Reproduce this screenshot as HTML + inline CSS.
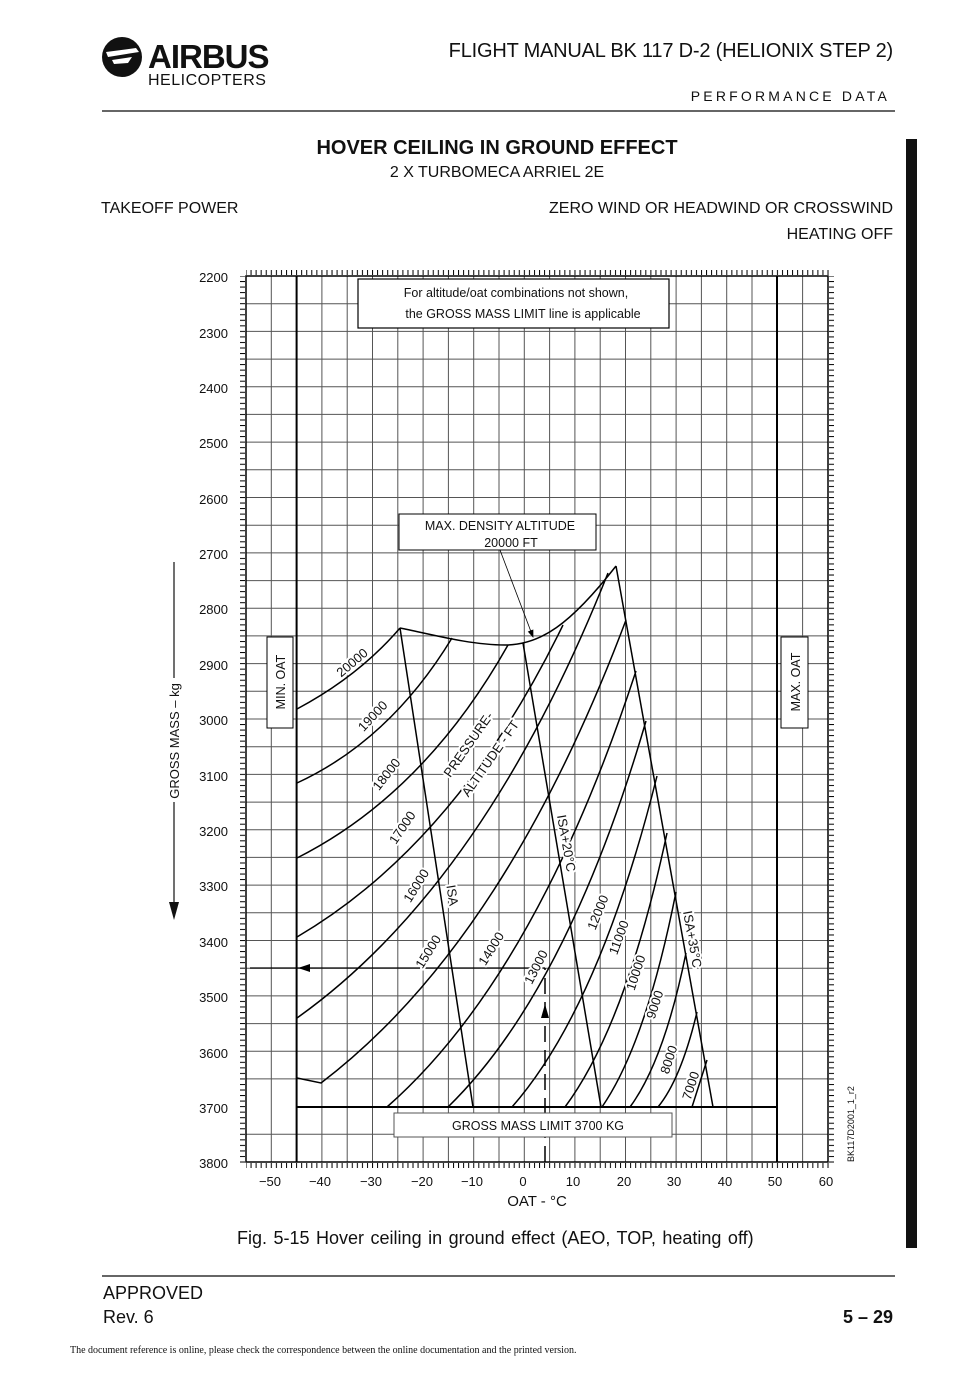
<!DOCTYPE html>
<html><head><meta charset="utf-8"><style>
html,body{margin:0;padding:0;background:#fff;}
body{width:960px;height:1368px;position:relative;overflow:hidden;font-family:"Liberation Sans",sans-serif;}
</style></head><body>
<svg width="960" height="1368" viewBox="0 0 960 1368" xmlns="http://www.w3.org/2000/svg" font-family="Liberation Sans, sans-serif">
<defs>
<pattern id="tx" x="245.5" y="0" width="5.0609" height="20" patternUnits="userSpaceOnUse"><rect x="0" y="0" width="1" height="20" fill="#000"/></pattern>
<pattern id="ty" x="0" y="275.5" width="20" height="5.5375" patternUnits="userSpaceOnUse"><rect x="0" y="0" width="20" height="1" fill="#000"/></pattern>
<marker id="ah" markerWidth="8" markerHeight="8" refX="7" refY="4" orient="auto" markerUnits="userSpaceOnUse"><path d="M0,1 L8,4 L0,7 Z" fill="#000"/></marker>
</defs>

<!-- header -->
<circle cx="122" cy="57" r="20" fill="#111"/>
<path d="M106,52 L136,48 L139,52 L108,57 Z M112,60 L132,57 L128,63 L114,64 Z" fill="#fff"/>
<text x="148" y="68" font-size="33" font-weight="bold" fill="#111" letter-spacing="-1">AIRBUS</text>
<text x="148" y="85" font-size="16" fill="#111" letter-spacing="0.5">HELICOPTERS</text>
<text x="893" y="57" font-size="20" text-anchor="end" fill="#111" letter-spacing="-0.2">FLIGHT MANUAL  BK 117 D-2 (HELIONIX STEP 2)</text>
<text x="890" y="101" font-size="14" text-anchor="end" letter-spacing="3.2" fill="#111">PERFORMANCE DATA</text>
<line x1="102" y1="111" x2="895" y2="111" stroke="#333" stroke-width="1.5"/>
<rect x="906" y="139" width="11" height="1109" fill="#111"/>

<text x="497" y="154" font-size="20" font-weight="bold" text-anchor="middle" fill="#111">HOVER CEILING IN GROUND EFFECT</text>
<text x="497" y="177" font-size="16" text-anchor="middle" fill="#111">2 X TURBOMECA ARRIEL 2E</text>
<text x="101" y="213" font-size="16" fill="#111">TAKEOFF POWER</text>
<text x="893" y="213" font-size="16" text-anchor="end" fill="#111">ZERO WIND OR HEADWIND OR CROSSWIND</text>
<text x="893" y="239" font-size="16" text-anchor="end" fill="#111">HEATING OFF</text>

<!-- grid -->
<g stroke="#555" stroke-width="1">
<line x1="271.3" y1="276" x2="271.3" y2="1162"/><line x1="321.9" y1="276" x2="321.9" y2="1162"/><line x1="347.2" y1="276" x2="347.2" y2="1162"/><line x1="372.5" y1="276" x2="372.5" y2="1162"/><line x1="397.8" y1="276" x2="397.8" y2="1162"/><line x1="423.1" y1="276" x2="423.1" y2="1162"/><line x1="448.4" y1="276" x2="448.4" y2="1162"/><line x1="473.7" y1="276" x2="473.7" y2="1162"/><line x1="499.0" y1="276" x2="499.0" y2="1162"/><line x1="524.3" y1="276" x2="524.3" y2="1162"/><line x1="549.6" y1="276" x2="549.6" y2="1162"/><line x1="574.9" y1="276" x2="574.9" y2="1162"/><line x1="600.2" y1="276" x2="600.2" y2="1162"/><line x1="625.5" y1="276" x2="625.5" y2="1162"/><line x1="650.8" y1="276" x2="650.8" y2="1162"/><line x1="676.1" y1="276" x2="676.1" y2="1162"/><line x1="701.4" y1="276" x2="701.4" y2="1162"/><line x1="726.7" y1="276" x2="726.7" y2="1162"/><line x1="752.0" y1="276" x2="752.0" y2="1162"/><line x1="802.6" y1="276" x2="802.6" y2="1162"/>
<line x1="246" y1="303.7" x2="828" y2="303.7"/><line x1="246" y1="331.4" x2="828" y2="331.4"/><line x1="246" y1="359.1" x2="828" y2="359.1"/><line x1="246" y1="386.8" x2="828" y2="386.8"/><line x1="246" y1="414.4" x2="828" y2="414.4"/><line x1="246" y1="442.1" x2="828" y2="442.1"/><line x1="246" y1="469.8" x2="828" y2="469.8"/><line x1="246" y1="497.5" x2="828" y2="497.5"/><line x1="246" y1="525.2" x2="828" y2="525.2"/><line x1="246" y1="552.9" x2="828" y2="552.9"/><line x1="246" y1="580.6" x2="828" y2="580.6"/><line x1="246" y1="608.3" x2="828" y2="608.3"/><line x1="246" y1="635.9" x2="828" y2="635.9"/><line x1="246" y1="663.6" x2="828" y2="663.6"/><line x1="246" y1="691.3" x2="828" y2="691.3"/><line x1="246" y1="719.0" x2="828" y2="719.0"/><line x1="246" y1="746.7" x2="828" y2="746.7"/><line x1="246" y1="774.4" x2="828" y2="774.4"/><line x1="246" y1="802.1" x2="828" y2="802.1"/><line x1="246" y1="829.8" x2="828" y2="829.8"/><line x1="246" y1="857.4" x2="828" y2="857.4"/><line x1="246" y1="885.1" x2="828" y2="885.1"/><line x1="246" y1="912.8" x2="828" y2="912.8"/><line x1="246" y1="940.5" x2="828" y2="940.5"/><line x1="246" y1="968.2" x2="828" y2="968.2"/><line x1="246" y1="995.9" x2="828" y2="995.9"/><line x1="246" y1="1023.6" x2="828" y2="1023.6"/><line x1="246" y1="1051.3" x2="828" y2="1051.3"/><line x1="246" y1="1078.9" x2="828" y2="1078.9"/><line x1="246" y1="1134.3" x2="828" y2="1134.3"/>
</g>
<!-- ticks -->
<rect x="246" y="270" width="583" height="5" fill="url(#tx)"/>
<rect x="246" y="1163" width="583" height="5" fill="url(#tx)"/>
<rect x="240" y="276" width="5" height="887" fill="url(#ty)"/>
<rect x="829" y="276" width="5" height="887" fill="url(#ty)"/>
<rect x="246" y="276" width="582" height="886" fill="none" stroke="#000" stroke-width="1.5"/>
<line x1="296.6" y1="276" x2="296.6" y2="1162" stroke="#000" stroke-width="2"/>
<line x1="777" y1="276" x2="777" y2="1162" stroke="#000" stroke-width="2"/>
<line x1="296.6" y1="1107" x2="777" y2="1107" stroke="#000" stroke-width="2"/>

<!-- y labels -->
<g font-size="13" text-anchor="end" fill="#111">
<text x="228" y="282">2200</text><text x="228" y="338">2300</text><text x="228" y="393">2400</text><text x="228" y="448">2500</text><text x="228" y="504">2600</text><text x="228" y="559">2700</text><text x="228" y="614">2800</text><text x="228" y="670">2900</text><text x="228" y="725">3000</text><text x="228" y="781">3100</text><text x="228" y="836">3200</text><text x="228" y="891">3300</text><text x="228" y="947">3400</text><text x="228" y="1002">3500</text><text x="228" y="1058">3600</text><text x="228" y="1113">3700</text><text x="228" y="1168">3800</text>
</g>
<g font-size="13" text-anchor="middle" fill="#111">
<text x="270" y="1186">−50</text><text x="320" y="1186">−40</text><text x="371" y="1186">−30</text><text x="422" y="1186">−20</text><text x="472" y="1186">−10</text><text x="523" y="1186">0</text><text x="573" y="1186">10</text><text x="624" y="1186">20</text><text x="674" y="1186">30</text><text x="725" y="1186">40</text><text x="775" y="1186">50</text><text x="826" y="1186">60</text>
</g>
<text x="537" y="1206" font-size="15" text-anchor="middle" fill="#111">OAT - °C</text>
<text transform="translate(179,741) rotate(-90)" font-size="13" text-anchor="middle" fill="#111">GROSS MASS – kg</text>
<line x1="174" y1="562" x2="174" y2="678" stroke="#111" stroke-width="1.2"/>
<line x1="174" y1="802" x2="174" y2="905" stroke="#111" stroke-width="1.2"/>
<path d="M169,902 L179,902 L174,920 Z" fill="#111"/>
<text transform="translate(854,1162) rotate(-90)" font-size="9" fill="#111">BK117D2001_1_r2</text>

<!-- curves -->
<g fill="none" stroke="#000" stroke-width="1.5">
<path d="M400,628 C430,634 470,645 505,645 C540,645 570,625 616,566"/>
<path d="M400,628 L473,1107"/>
<path d="M523,643 L601,1107"/>
<path d="M616,566 L713,1107"/>
<path d="M297,709 Q359,676 400,628"/>
<path d="M297,783 Q390,740 452,638"/>
<path d="M297,858 Q424,794 508,645"/>
<path d="M297,937 Q457,843 563,625"/>
<path d="M297,1018 Q484,885 608,573"/>
<path d="M297,1078 L321,1083 Q504,944 626,620"/>
<path d="M387,1107 Q536,976 636,671"/>
<path d="M448,1107 Q567,991 646,721"/>
<path d="M512,1107 Q599,1008 657,776"/>
<path d="M565,1107 Q626,1025 667,833"/>
<path d="M602,1107 Q646,1043 676,892"/>
<path d="M630,1107 Q664,1061 686,953"/>
<path d="M658,1107 Q681,1079 697,1012"/>
<path d="M692,1107 L707,1060"/>
</g>
<line x1="500" y1="550" x2="533" y2="637" stroke="#000" stroke-width="0.8" marker-end="url(#ah)"/>
<line x1="545" y1="968" x2="250" y2="968" stroke="#000" stroke-width="1.2"/>
<path d="M298,968 L310,964 L310,972 Z" fill="#000"/>
<line x1="545" y1="1162" x2="545" y2="968" stroke="#000" stroke-width="1.5" stroke-dasharray="16,8"/>
<path d="M545,1004 L541,1018 L549,1018 Z" fill="#000"/>

<!-- curve labels -->
<g font-size="13" fill="#111" text-anchor="middle" stroke="#fff" stroke-width="4" paint-order="stroke" stroke-linejoin="round">
<text transform="translate(355,666) rotate(-40)">20000</text>
<text transform="translate(376,719) rotate(-47)">19000</text>
<text transform="translate(390,777) rotate(-52)">18000</text>
<text transform="translate(406,830) rotate(-56)">17000</text>
<text transform="translate(420,888) rotate(-58)">16000</text>
<text transform="translate(432,954) rotate(-58)">15000</text>
<text transform="translate(495,951) rotate(-58)">14000</text>
<text transform="translate(540,969) rotate(-63)">13000</text>
<text transform="translate(602,914) rotate(-68)">12000</text>
<text transform="translate(623,939) rotate(-70)">11000</text>
<text transform="translate(640,974) rotate(-72)">10000</text>
<text transform="translate(659,1006) rotate(-72)">9000</text>
<text transform="translate(673,1061) rotate(-72)">8000</text>
<text transform="translate(695,1087) rotate(-72)">7000</text>
<text transform="translate(472,747) rotate(-55)">PRESSURE-</text>
<text transform="translate(494,761) rotate(-55)">ALTITUDE - FT</text>
<text transform="translate(448,896) rotate(81)">ISA</text>
<text transform="translate(562,844) rotate(80)">ISA+20°C</text>
<text transform="translate(688,940) rotate(80)">ISA+35°C</text>
</g>

<!-- boxes -->
<rect x="358" y="279" width="311" height="49" fill="#fff" stroke="#000" stroke-width="1.2"/>
<text x="516" y="297" font-size="12.5" text-anchor="middle" fill="#111">For altitude/oat combinations not shown,</text>
<text x="523" y="318" font-size="12.5" text-anchor="middle" fill="#111">the GROSS MASS LIMIT line is applicable</text>
<rect x="399" y="514" width="197" height="36" fill="#fff" stroke="#000" stroke-width="1"/>
<text x="500" y="530" font-size="12.5" text-anchor="middle" fill="#111">MAX. DENSITY ALTITUDE</text>
<text x="511" y="547" font-size="12.5" text-anchor="middle" fill="#111">20000 FT</text>
<rect x="267" y="637" width="26" height="91" fill="#fff" stroke="#000" stroke-width="1"/>
<text transform="translate(285,682) rotate(-90)" font-size="12.5" text-anchor="middle" fill="#111">MIN. OAT</text>
<rect x="781" y="637" width="27" height="91" fill="#fff" stroke="#000" stroke-width="1"/>
<text transform="translate(800,682) rotate(-90)" font-size="12.5" text-anchor="middle" fill="#111">MAX. OAT</text>
<rect x="394" y="1113" width="278" height="24" fill="#fff" stroke="#555" stroke-width="1"/>
<text x="538" y="1130" font-size="12.5" text-anchor="middle" fill="#111">GROSS MASS LIMIT 3700 KG</text>

<!-- caption/footer -->
<text x="237" y="1244" font-size="18" fill="#111" word-spacing="1.5">Fig. 5-15    Hover ceiling in ground effect (AEO, TOP, heating off)</text>
<line x1="102" y1="1276" x2="895" y2="1276" stroke="#333" stroke-width="1.5"/>
<text x="103" y="1299" font-size="18" fill="#111">APPROVED</text>
<text x="103" y="1323" font-size="18" fill="#111">Rev.    6</text>
<text x="893" y="1323" font-size="18" font-weight="bold" text-anchor="end" fill="#111">5 – 29</text>
<text x="70" y="1353" font-size="10" font-family="Liberation Serif, serif" fill="#111">The document reference is online, please check the correspondence between the online documentation and the printed version.</text>
</svg>
</body></html>
